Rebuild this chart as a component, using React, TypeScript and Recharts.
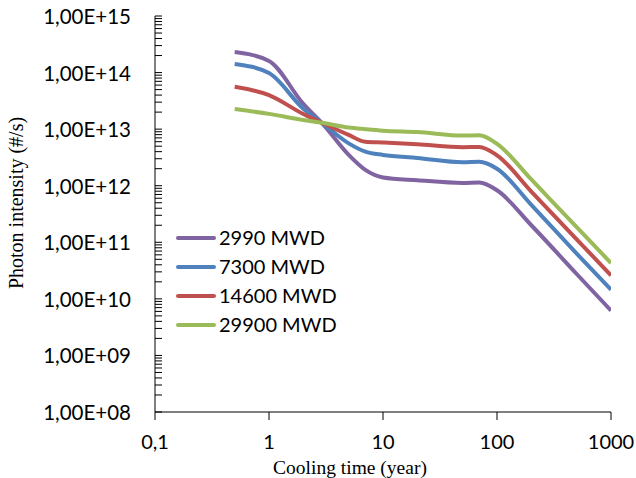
import React from 'react';
import { LineChart, Line, XAxis, YAxis, Legend, Label } from 'recharts';

// cooling time (year) and photon intensity (#/s) per burnup
const years = [0.5, 1, 2, 3, 5, 7, 10, 20, 50, 70, 100, 200, 500, 1000];
const mwd2990 = [2.3e14, 1.6e14, 2.8e13, 1.2e13, 3.5e12, 1.9e12, 1.4e12, 1.25e12, 1.12e12, 1.14e12, 8.3e11, 2.0e11, 2.75e10, 6.2e9];
const mwd7300 = [1.42e14, 9.8e13, 2.3e13, 1.23e13, 5.6e12, 4.0e12, 3.5e12, 3.1e12, 2.6e12, 2.65e12, 2.0e12, 4.6e11, 6.3e10, 1.45e10];
const mwd14600 = [5.6e13, 4.0e13, 1.85e13, 1.26e13, 7.9e12, 6.0e12, 5.8e12, 5.4e12, 4.8e12, 4.85e12, 3.45e12, 7.9e11, 1.13e11, 2.6e10];
const mwd29900 = [2.28e13, 1.86e13, 1.45e13, 1.28e13, 1.07e13, 1.0e13, 9.4e12, 8.9e12, 7.7e12, 7.8e12, 5.5e12, 1.29e12, 1.85e11, 4.3e10];

const seriesNames = ['2990 MWD', '7300 MWD', '14600 MWD', '29900 MWD'];
const seriesColors = ['#8064A2', '#4F81BD', '#C0504D', '#9BBB59'];

const xTicks = [0.1, 1, 10, 100, 1000];
const yMajors = [8, 9, 10, 11, 12, 13, 14, 15];

const data = years.map((x, i) => ({
  x,
  s0: mwd2990[i],
  s1: mwd7300[i],
  s2: mwd14600[i],
  s3: mwd29900[i],
}));

// major + minor (2..9) ticks for the log axis
const yTicks: number[] = [];
yMajors.forEach((e) => {
  yTicks.push(Math.pow(10, e));
  if (e < 15) {
    for (let m = 2; m <= 9; m++) yTicks.push(m * Math.pow(10, e));
  }
});

const tickFont = 'Lato, "Noto Sans", sans-serif';
const serifFont = '"Liberation Serif", "Times New Roman", serif';

const YTick = (props: any) => {
  const { x, y, payload } = props;
  const lg = Math.log10(payload.value);
  const major = Math.abs(lg - Math.round(lg)) < 1e-6;
  const exp = Math.round(lg);
  return (
    <g>
      <line x1={x} x2={x + 7} y1={y} y2={y} stroke="#000" strokeWidth={1} />
      {major && (
        <text
          x={x - 24}
          y={y}
          textAnchor="end"
          dominantBaseline="central"
          fontFamily={tickFont}
          fontSize={20.5}
          fill="#000"
        >
          {`1,00E+${exp < 10 ? '0' + exp : exp}`}
        </text>
      )}
    </g>
  );
};

// legend in series order (not sorted)
const renderLegend = () => (
  <div>
    {seriesNames.map((name, i) => (
      <div key={`leg-${i}`} style={{ display: 'flex', alignItems: 'center', height: 29 }}>
        <span
          style={{
            display: 'inline-block',
            width: 40,
            height: 4,
            borderRadius: 2,
            background: seriesColors[i],
          }}
        />
        <span
          style={{
            marginLeft: 3,
            fontFamily: tickFont,
            fontSize: 20,
            color: '#000',
            lineHeight: '29px',
            whiteSpace: 'nowrap',
          }}
        >
          {name}
        </span>
      </div>
    ))}
  </div>
);

export default function App() {
  return (
    <div style={{ position: 'absolute', left: 0, top: 0, width: 636, height: 478, background: '#fff' }}>
      <LineChart width={636} height={478} data={data} margin={{ top: 16, right: 25, bottom: 0, left: 0 }}>
        <XAxis
          dataKey="x"
          type="number"
          scale="log"
          domain={[0.1, 1000]}
          ticks={xTicks}
          allowDataOverflow
          height={66}
          tickSize={8}
          tickMargin={15}
          stroke="#000"
          tick={{ fontFamily: tickFont, fontSize: 20, fill: '#000' }}
          tickFormatter={(v: number) => String(v).replace('.', ',')}
        >
          <Label
            content={() => (
              <text
                x={350}
                y={467}
                textAnchor="middle"
                dominantBaseline="central"
                fontFamily={serifFont}
                fontSize={19.5}
                fill="#000"
              >
                Cooling time (year)
              </text>
            )}
          />
        </XAxis>
        <YAxis
          type="number"
          scale="log"
          domain={[1e8, 1e15]}
          ticks={yTicks}
          interval={0}
          allowDataOverflow
          width={155}
          tickSize={0}
          tickMargin={0}
          tickLine={false}
          stroke="#000"
          tick={<YTick />}
        >
          <Label
            content={() => (
              <text
                transform="translate(16,203) rotate(-90)"
                textAnchor="middle"
                dominantBaseline="central"
                fontFamily={serifFont}
                fontSize={20}
                fill="#000"
              >
                Photon intensity (#/s)
              </text>
            )}
          />
        </YAxis>
        <Legend
          layout="vertical"
          align="center"
          verticalAlign="middle"
          content={renderLegend}
          wrapperStyle={{ left: 176, top: 223, bottom: 'auto', width: 'auto' }}
        />
        {['s0', 's1', 's2', 's3'].map((key, i) => (
          <Line
            key={key}
            dataKey={key}
            name={seriesNames[i]}
            type="monotone"
            stroke={seriesColors[i]}
            strokeWidth={4}
            dot={false}
            activeDot={false}
            isAnimationActive={false}
          />
        ))}
      </LineChart>
    </div>
  );
}
